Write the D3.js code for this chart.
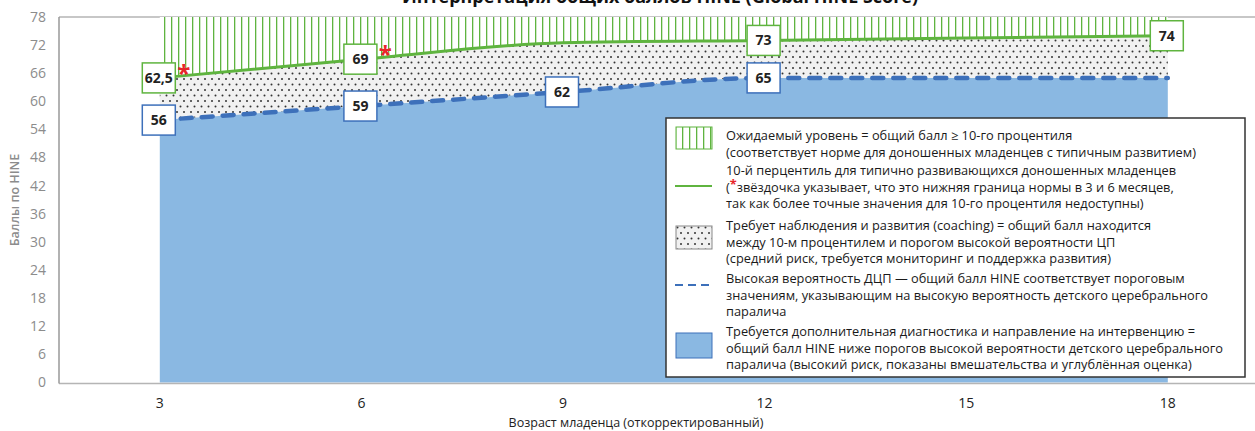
<!DOCTYPE html>
<html lang="ru">
<head>
<meta charset="UTF-8">
<title>Интерпретация общих баллов HINE</title>
<script src="https://d3js.org/d3.v7.min.js"></script>
<style>
    body { margin: 0; padding: 0; background: #ffffff; font-family: "Open Sans", "Noto Sans", sans-serif; }
    svg text { font-family: "Open Sans", "Noto Sans", sans-serif; }
</style>
</head>
<body>
<svg id="chart" width="1255" height="431"></svg>
<script>
    // данные
    const months = [3, 6, 9, 12, 15, 18];
    const p10 = [65, 69, 72.5, 73, 73.5, 74];          // 10-й перцентиль
    const highRisk = [56, 59, 62, 65, 65, 65];          // порог высокой вероятности ДЦП
    const yMax = 78;
    const yTicks = [0, 6, 12, 18, 24, 30, 36, 42, 48, 54, 60, 66, 72, 78];
    const xTicks = [3, 6, 9, 12, 15, 18];
    const p10Labels = [[3, "62,5"], [6, "69"], [12, "73"], [18, "74"]];
    const riskLabels = [[3, "56"], [6, "59"], [9, "62"], [12, "65"]];
    const starMonths = [3, 6];

    const green = "#5fb43f", blue = "#3d70ba", blueFill = "#8ab8e2";

    const svg = d3.select("#chart");
    const x = d3.scaleLinear().domain([1.5, 19.5]).range([59, 1268.6]);
    const y = d3.scaleLinear().domain([0, yMax]).range([382.5, 17]);

    const defs = svg.append("defs");
    const hatch = defs.append("pattern").attr("id", "hatch")
        .attr("patternUnits", "userSpaceOnUse").attr("width", 7).attr("height", 10);
    hatch.append("rect").attr("width", 7).attr("height", 10).attr("fill", "#fff");
    hatch.append("rect").attr("x", 3).attr("y", 0).attr("width", 1.3).attr("height", 10)
        .attr("fill", green);

    const dots = defs.append("pattern").attr("id", "dots")
        .attr("patternUnits", "userSpaceOnUse").attr("width", 7).attr("height", 11);
    dots.append("rect").attr("width", 7).attr("height", 11).attr("fill", "#f1f1f1");
    dots.append("circle").attr("cx", 2).attr("cy", 2).attr("r", 1).attr("fill", "#333");
    dots.append("circle").attr("cx", 5.5).attr("cy", 7.5).attr("r", 1).attr("fill", "#333");

    const rows = months.map((m, i) => ({ m, g: p10[i], b: highRisk[i] }));
    const curve = d3.curveMonotoneX;

    // рамка
    svg.append("line").attr("x1", x(1.5)).attr("x2", 1255).attr("y1", y(yMax)).attr("y2", y(yMax))
        .attr("stroke", "#b5b5b5").attr("stroke-width", 1.5);

    // области
    svg.append("path").datum(rows)
        .attr("d", d3.area().curve(curve).x(d => x(d.m)).y0(y(yMax)).y1(d => y(d.g)))
        .attr("fill", "url(#hatch)");
    svg.append("path").datum(rows)
        .attr("d", d3.area().curve(curve).x(d => x(d.m)).y0(d => y(d.b)).y1(d => y(d.g)))
        .attr("fill", "url(#dots)");
    svg.append("path").datum(rows)
        .attr("d", d3.area().curve(curve).x(d => x(d.m)).y0(y(0)).y1(d => y(d.b)))
        .attr("fill", blueFill);

    svg.append("path").datum(rows)
        .attr("d", d3.line().curve(curve).x(d => x(d.m)).y(d => y(d.g)))
        .attr("fill", "none").attr("stroke", green).attr("stroke-width", 3);
    svg.append("path").datum(rows)
        .attr("d", d3.line().curve(curve).x(d => x(d.m)).y(d => y(d.b)))
        .attr("fill", "none").attr("stroke", blue).attr("stroke-width", 4.5)
        .attr("stroke-dasharray", "11,10").attr("stroke-linecap", "round");

    // оси
    svg.append("line").attr("x1", x(1.5)).attr("x2", 1255).attr("y1", y(0) + 1).attr("y2", y(0) + 1)
        .attr("stroke", "#b5b5b5").attr("stroke-width", 1.5);
    svg.append("line").attr("x1", x(1.5)).attr("x2", x(1.5)).attr("y1", y(yMax)).attr("y2", y(0) + 1)
        .attr("stroke", "#999").attr("stroke-width", 1.5);

    svg.append("g").selectAll("text").data(yTicks).join("text")
        .attr("x", 46).attr("y", d => y(d)).attr("dy", "0.35em")
        .attr("text-anchor", "end").attr("fill", "#8c8c8c").attr("font-size", 14)
        .text(d => d);
    svg.append("g").selectAll("text").data(xTicks).join("text")
        .attr("x", d => x(d)).attr("y", 408)
        .attr("text-anchor", "middle").attr("fill", "#222").attr("font-size", 14)
        .text(d => d);

    svg.append("text").attr("transform", "translate(19,200) rotate(-90)")
        .attr("text-anchor", "middle").attr("fill", "#8c8c8c").attr("font-size", 12.5).attr("font-weight", 600)
        .text("Баллы по HINE");
    svg.append("text").attr("x", 636).attr("y", 427)
        .attr("text-anchor", "middle").attr("fill", "#222").attr("font-size", 12.5)
        .text("Возраст младенца (откорректированный)");
    svg.append("text").attr("x", 660).attr("y", 3)
        .attr("text-anchor", "middle").attr("fill", "#111").attr("font-size", 18).attr("font-weight", 700)
        .text("Интерпретация общих баллов HINE (Global HINE Score)");

    // подписи значений
    function valueBox(m, v, txt, color) {
        const cx = x(m) - 1, cy = y(v);
        svg.append("rect").attr("x", cx - 16.5).attr("y", cy - 15).attr("width", 33).attr("height", 30)
            .attr("fill", "#fff").attr("stroke", color).attr("stroke-width", 1.5);
        svg.append("text").attr("x", cx).attr("y", cy).attr("dy", "0.36em")
            .attr("text-anchor", "middle").attr("font-size", 14).attr("font-weight", 700).attr("fill", "#222")
            .text(txt);
    }
    p10Labels.forEach(([m, t]) => valueBox(m, p10[months.indexOf(m)], t, green));
    riskLabels.forEach(([m, t]) => valueBox(m, highRisk[months.indexOf(m)], t, blue));

    starMonths.forEach(m => {
        svg.append("text").attr("x", x(m) + 24).attr("y", y(p10[months.indexOf(m)]) + 4)
            .attr("text-anchor", "middle").attr("font-size", 24).attr("font-weight", 700).attr("fill", "#e8262a")
            .text("*");
    });

    // легенда
    const lg = svg.append("g");
    lg.append("rect").attr("x", 666).attr("y", 118).attr("width", 579).attr("height", 259)
        .attr("fill", "#fff").attr("stroke", "#333").attr("stroke-width", 1.5);

    const legendItems = [
        { kind: "hatch", sy: 127, sh: 22, lines: ["Ожидаемый уровень = общий балл ≥ 10-го процентиля",
            "(соответствует норме для доношенных младенцев с типичным развитием)"], ty: 136 },
        { kind: "line", sy: 186, lines: ["10-й перцентиль для типично развивающихся доношенных младенцев",
            "(*звёздочка указывает, что это нижняя граница нормы в 3 и 6 месяцев,",
            "так как более точные значения для 10-го процентиля недоступны)"], ty: 171 },
        { kind: "dots", sy: 226, sh: 23, lines: ["Требует наблюдения и развития (coaching) = общий балл находится",
            "между 10-м процентилем и порогом высокой вероятности ЦП",
            "(средний риск, требуется мониторинг и поддержка развития)"], ty: 226 },
        { kind: "dash", sy: 285, lines: ["Высокая вероятность ДЦП — общий балл HINE соответствует пороговым",
            "значениям, указывающим на высокую вероятность детского церебрального",
            "паралича"], ty: 279 },
        { kind: "fill", sy: 333, sh: 25, lines: ["Требуется дополнительная диагностика и направление на интервенцию =",
            "общий балл HINE ниже порогов высокой вероятности детского церебрального",
            "паралича (высокий риск, показаны вмешательства и углублённая оценка)"], ty: 332 }
    ];

    legendItems.forEach(it => {
        if (it.kind === "hatch") {
            lg.append("rect").attr("x", 676).attr("y", it.sy).attr("width", 36).attr("height", it.sh)
                .attr("fill", "url(#hatch)").attr("stroke", green).attr("stroke-width", 1);
        } else if (it.kind === "dots") {
            lg.append("rect").attr("x", 676).attr("y", it.sy).attr("width", 36).attr("height", it.sh)
                .attr("fill", "url(#dots)").attr("stroke", "#888").attr("stroke-width", 1);
        } else if (it.kind === "fill") {
            lg.append("rect").attr("x", 676).attr("y", it.sy).attr("width", 36).attr("height", it.sh)
                .attr("fill", blueFill).attr("stroke", blue).attr("stroke-width", 1);
        } else if (it.kind === "line") {
            lg.append("line").attr("x1", 675).attr("x2", 712).attr("y1", it.sy).attr("y2", it.sy)
                .attr("stroke", green).attr("stroke-width", 2);
        } else {
            lg.append("line").attr("x1", 675).attr("x2", 712).attr("y1", it.sy).attr("y2", it.sy)
                .attr("stroke", blue).attr("stroke-width", 2).attr("stroke-dasharray", "8,5");
        }
        it.lines.forEach((ln, i) => {
            const t = lg.append("text").attr("x", 726).attr("y", it.ty + i * 16.3).attr("dy", "0.35em")
                .attr("font-size", 12.8).attr("fill", "#1a1a1a");
            if (ln.startsWith("(*")) {
                t.append("tspan").text("(");
                t.append("tspan").attr("fill", "#e8262a").attr("font-weight", 700).attr("dy", "-0.25em").text("*");
                t.append("tspan").attr("dy", "0.25em").text(ln.slice(2));
            } else {
                t.text(ln);
            }
        });
    });
</script>
</body>
</html>
